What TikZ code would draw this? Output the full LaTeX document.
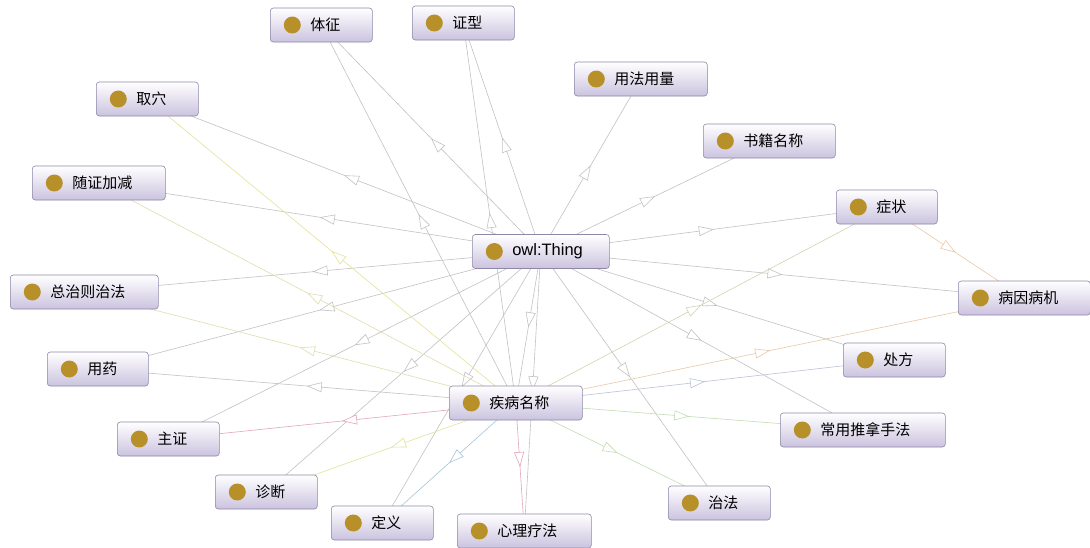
\documentclass[tikz,border=0pt]{standalone}
\usepackage{fontspec}
\setmainfont{Noto Sans CJK SC}
\newfontfamily\latinfont{Liberation Sans}
\usetikzlibrary{arrows.meta,decorations.markings}

\pgfdeclarelayer{canvas}
\pgfdeclarelayer{links}
\pgfsetlayers{canvas,links,main}

\definecolor{boxtop}{HTML}{FFFFFF}
\definecolor{boxbot}{HTML}{CBC3DF}
\definecolor{boxline}{HTML}{8E88A8}
\definecolor{dotgold}{HTML}{B8902A}
\definecolor{thingc}{HTML}{C2C2C2}
\definecolor{pinkc}{HTML}{E2A6B8}
\definecolor{yellowc}{HTML}{E4E29A}
\definecolor{bluec}{HTML}{A6C6DA}
\definecolor{greenc}{HTML}{C4DCB4}
\definecolor{orangec}{HTML}{EAC8A6}
\definecolor{slatec}{HTML}{BAC2D6}
\definecolor{olivec}{HTML}{D2D2B2}
\definecolor{sandc}{HTML}{E2DCAE}

\tikzset{
  classbox/.style={draw=boxline, line width=0.6pt, rounded corners=3pt,
    top color=boxtop, bottom color=boxbot, anchor=west,
    minimum height=34pt, inner sep=0pt, align=left,
    font=\fontsize{15}{15}\selectfont,
    path picture={\fill[dotgold] ([xshift=22pt]path picture bounding box.west) circle (8.5pt);}},
  link/.style={line width=0.6pt,
    decoration={markings, mark=at position 0.5 with {\arrow{Triangle[open,length=15pt,width=10pt,fill=white]}}},
    postaction={decorate}},
}

% name, left edge, centre y, width, label
\newcommand\classnode[5]{\node[classbox, text width=#4pt] (#1) at (#2,#3) {\hspace*{40pt}#5};}

\begin{document}
\begin{tikzpicture}[x=1pt,y=-1pt]
\useasboundingbox (0,0) rectangle (1090,547);
\begin{pgfonlayer}{canvas}
  \fill[white] (0,0) rectangle (1090,547);
\end{pgfonlayer}

% classes
\classnode{thing}{472}{251.5}{137}{{\latinfont\fontsize{16.5}{16.5}\selectfont owl:Thing}}
\classnode{tizheng}{270}{25}{102}{体征}
\classnode{zhengxing}{412}{23}{102}{证型}
\classnode{quxue}{96}{99}{102}{取穴}
\classnode{yongfa}{574}{79}{133}{用法用量}
\classnode{shuji}{703}{141}{132}{书籍名称}
\classnode{suizheng}{32}{183}{133}{随证加减}
\classnode{zhengzhuang}{836}{207}{101}{症状}
\classnode{zongzhi}{10}{292}{148}{总治则治法}
\classnode{bingyin}{958}{298}{132}{病因病机}
\classnode{yongyao}{47}{369}{101}{用药}
\classnode{chufang}{843}{360}{102}{处方}
\classnode{jibing}{449}{403}{133}{疾病名称}
\classnode{tuina}{780}{430}{165}{常用推拿手法}
\classnode{zhuzheng}{117}{439}{102}{主证}
\classnode{zhenduan}{215}{492}{102}{诊断}
\classnode{dingyi}{331}{523}{102}{定义}
\classnode{xinli}{457}{531}{134}{心理疗法}
\classnode{zhifa}{668}{503}{102}{治法}

\begin{pgfonlayer}{links}
  % subclass links from owl:Thing
  \foreach \child in {tizheng,zhengxing,quxue,yongfa,shuji,suizheng,zhengzhuang,
      zongzhi,bingyin,yongyao,chufang,jibing,tuina,zhuzheng,zhenduan,dingyi,xinli,zhifa}
    \draw[link, draw=thingc] (thing.center) -- (\child.center);

  % property links from 疾病名称
  \draw[link, draw=pinkc]   (jibing.center) -- (zhuzheng.center);
  \draw[link, draw=yellowc] (jibing.center) -- (zhenduan.center);
  \draw[link, draw=bluec]   (jibing.center) -- (dingyi.center);
  \draw[link, draw=pinkc]   (jibing.center) -- (xinli.center);
  \draw[link, draw=greenc]  (jibing.center) -- (zhifa.center);
  \draw[link, draw=greenc]  (jibing.center) -- (tuina.center);
  \draw[link, draw=slatec]  (jibing.center) -- (chufang.center);
  \draw[link, draw=orangec] (jibing.center) -- (bingyin.center);
  \draw[link, draw=olivec]  (jibing.center) -- (zhengzhuang.center);
  \draw[link, draw=thingc]  (jibing.center) -- (yongyao.center);
  \draw[link, draw=sandc]   (jibing.center) -- (zongzhi.center);
  \draw[link, draw=sandc]   (jibing.center) -- (suizheng.center);
  \draw[link, draw=yellowc] (jibing.center) -- (quxue.center);
  \draw[link, draw=thingc]  (jibing.center) -- (tizheng.center);
  \draw[link, draw=thingc]  (jibing.center) -- (zhengxing.center);

  % link between 症状 and 病因病机
  \draw[link, draw=orangec] (zhengzhuang.center) -- (bingyin.center);
\end{pgfonlayer}
\end{tikzpicture}
\end{document}
